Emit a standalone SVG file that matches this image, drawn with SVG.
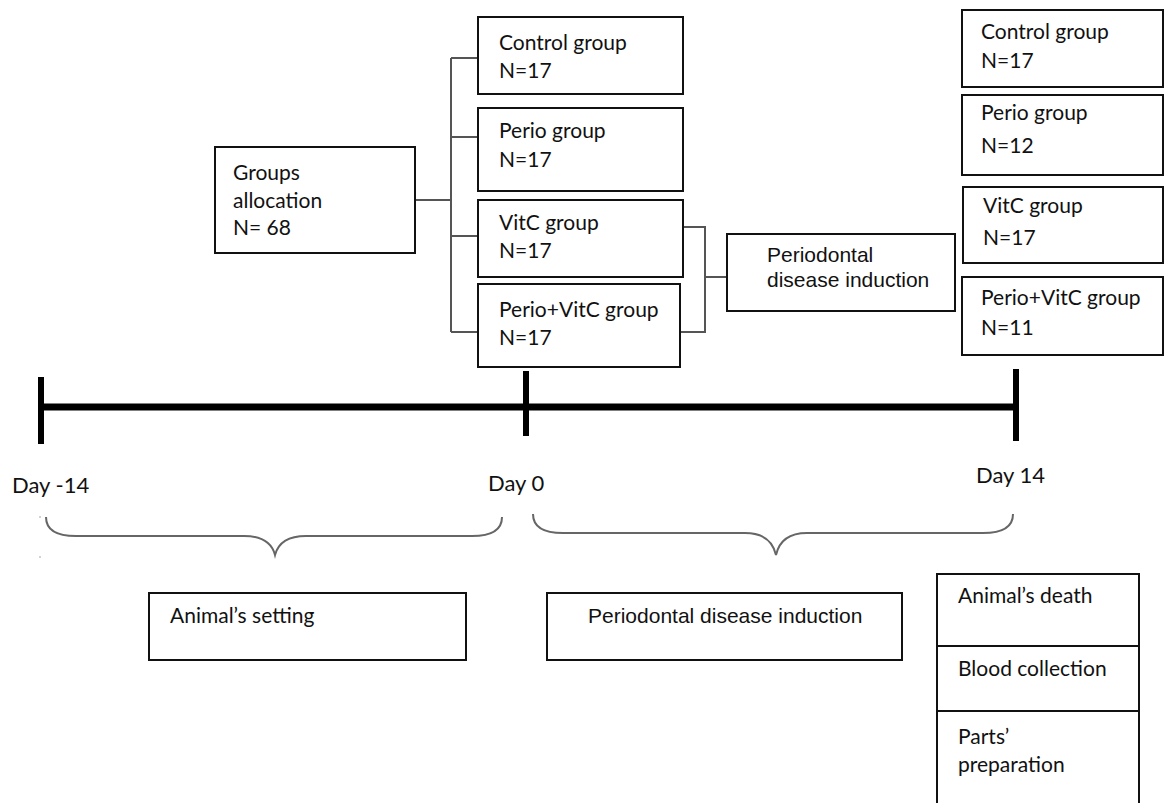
<svg xmlns="http://www.w3.org/2000/svg" width="1165" height="803" viewBox="0 0 1165 803">
<style>
.box{fill:#fff;stroke:#111;stroke-width:2}
.t{font-family:Lato,"Open Sans","Liberation Sans",sans-serif;font-size:21px;fill:#111}
.d{font-family:Lato,"Open Sans","Liberation Sans",sans-serif;font-size:22px;fill:#111}
.a{font-family:"Liberation Sans",Arial,sans-serif;font-size:21px;fill:#111}
.con{fill:none;stroke:#555;stroke-width:2}
.tick{stroke:#000;stroke-width:6;fill:none}
.brace{fill:none;stroke:#666;stroke-width:2}
</style>
<rect width="1165" height="803" fill="#fff"/>
<g id="connectors">
<path class="con" d="M415,200 H451 M451,58 V332 M451,58 H478 M451,137 H478 M451,236 H478 M451,332 H478"/>
<path class="con" d="M683,227 H705 V332 H680 M705,277 H727"/>
</g>
<g id="timeline">
<line x1="41" y1="407" x2="1016" y2="407" stroke="#000" stroke-width="7"/>
<line class="tick" x1="41" y1="377" x2="41" y2="444"/>
<line class="tick" x1="526" y1="371" x2="526" y2="436"/>
<line class="tick" x1="1016" y1="369" x2="1016" y2="441"/>
<text class="d" x="12" y="493">Day -14</text>
<text class="d" x="488" y="491">Day 0</text>
<text class="d" x="976" y="483">Day 14</text>
</g>
<g id="braces">
<path class="brace" d="M46,517 Q46,536 76,536 L244,536 Q270,536 275,555 Q280,536 306,536 L472,536 Q502,536 502,517"/>
<path class="brace" d="M533,514 Q533,533 563,533 L745,533 Q771,533 776,555 Q781,533 807,533 L983,533 Q1013,533 1013,514"/>
<circle cx="40" cy="517" r="0.8" fill="#999"/>
<circle cx="40" cy="557" r="0.8" fill="#999"/>
</g>
<g id="groups-allocation">
<rect class="box" x="215" y="147" width="200" height="106"/>
<text class="t" x="233" y="180">Groups</text>
<text class="t" x="233" y="208">allocation</text>
<text class="t" x="233" y="235">N= 68</text>
</g>
<g id="control-0">
<rect class="box" x="478" y="17" width="205" height="77"/>
<text class="t" x="499" y="50">Control group</text>
<text class="t" x="499" y="78">N=17</text>
</g>
<g id="perio-0">
<rect class="box" x="478" y="108" width="205" height="83"/>
<text class="t" x="499" y="138">Perio group</text>
<text class="t" x="499" y="167">N=17</text>
</g>
<g id="vitc-0">
<rect class="box" x="478" y="200" width="205" height="77"/>
<text class="t" x="499" y="230">VitC group</text>
<text class="t" x="499" y="258">N=17</text>
</g>
<g id="periovitc-0">
<rect class="box" x="478" y="284" width="202" height="83"/>
<text class="t" x="499" y="317">Perio+VitC group</text>
<text class="t" x="499" y="345">N=17</text>
</g>
<g id="induction-mid">
<rect class="box" x="727" y="234" width="228" height="77"/>
<text class="a" x="767" y="262">Periodontal</text>
<text class="a" x="767" y="287">disease induction</text>
</g>
<g id="control-14">
<rect class="box" x="962" y="10" width="201" height="77"/>
<text class="t" x="981" y="39">Control group</text>
<text class="t" x="981" y="68">N=17</text>
</g>
<g id="perio-14">
<rect class="box" x="962" y="95" width="201" height="80"/>
<text class="t" x="981" y="120">Perio group</text>
<text class="t" x="981" y="153">N=12</text>
</g>
<g id="vitc-14">
<rect class="box" x="963" y="187" width="200" height="76"/>
<text class="t" x="983" y="213">VitC group</text>
<text class="t" x="983" y="245">N=17</text>
</g>
<g id="periovitc-14">
<rect class="box" x="962" y="277" width="201" height="78"/>
<text class="t" x="981" y="305">Perio+VitC group</text>
<text class="t" x="981" y="335">N=11</text>
</g>
<g id="animals-setting">
<rect class="box" x="149" y="593" width="317" height="67"/>
<text class="t" x="170" y="623">Animal’s setting</text>
</g>
<g id="induction-bottom">
<rect class="box" x="547" y="593" width="355" height="67"/>
<text class="a" x="588" y="623">Periodontal disease induction</text>
</g>
<g id="endpoint">
<path class="box" d="M937,806 V574 H1139 V806"/>
<line x1="937" y1="646" x2="1139" y2="646" stroke="#111" stroke-width="2"/>
<line x1="937" y1="711" x2="1139" y2="711" stroke="#111" stroke-width="2"/>
<text class="t" x="958" y="603">Animal’s death</text>
<text class="t" x="958" y="676">Blood collection</text>
<text class="t" x="958" y="744">Parts’</text>
<text class="t" x="958" y="772">preparation</text>
</g>
</svg>
